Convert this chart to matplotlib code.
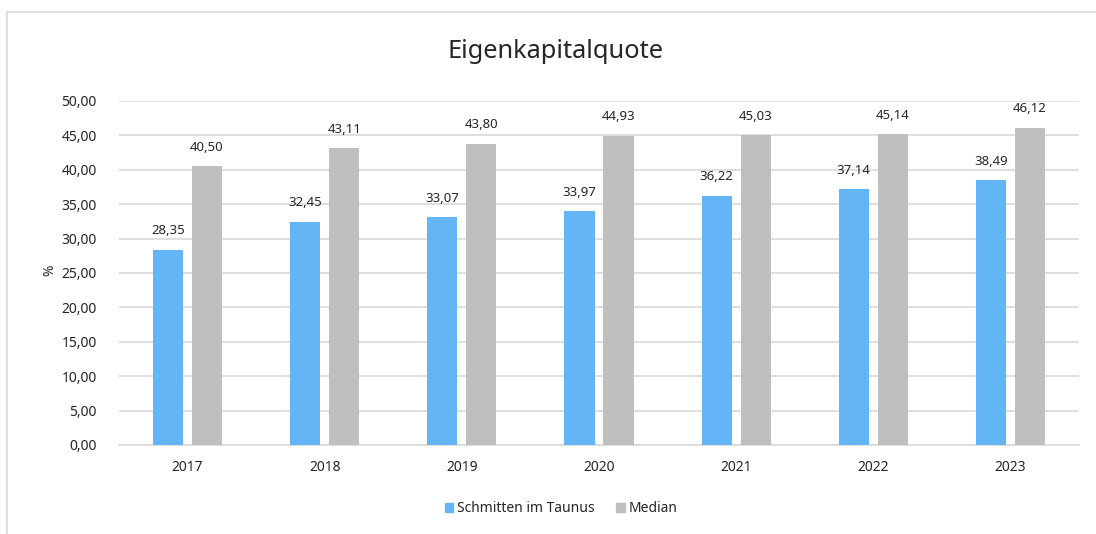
import matplotlib
matplotlib.use("Agg")
import matplotlib.pyplot as plt
from matplotlib.lines import Line2D
from matplotlib.patches import Patch
import numpy as np

plt.rcParams['font.family'] = ['Noto Sans', 'DejaVu Sans']

years = ["2017", "2018", "2019", "2020", "2021", "2022", "2023"]
schmitten = [28.35, 32.45, 33.07, 33.97, 36.22, 37.14, 38.49]
median = [40.50, 43.11, 43.80, 44.93, 45.03, 45.14, 46.12]
series_names = ["Schmitten im Taunus", "Median"]
yticks = [0, 5, 10, 15, 20, 25, 30, 35, 40, 45, 50]

blue = "#63B5F5"
gray = "#BFBFBF"
grid = "#D9D9D9"
W, H = 1096, 534

fig = plt.figure(figsize=(W / 100, H / 100), dpi=100)
ax = fig.add_axes([119 / W, 1 - 445 / H, (1079 - 119) / W, (445 - 101) / H])

x = np.arange(len(years))
bw = 0.22
off = 0.142
ax.bar(x - off, schmitten, bw, color=blue, zorder=3)
ax.bar(x + off, median, bw, color=gray, zorder=3)

def fmt(v):
    return f"{v:.2f}".replace(".", ",")

for xi, v in zip(x - off, schmitten):
    ax.annotate(fmt(v), (xi, v), xytext=(0, 9), textcoords="offset points",
                ha="center", va="bottom", fontsize=9.5, color="#262626")
for xi, v in zip(x + off, median):
    ax.annotate(fmt(v), (xi, v), xytext=(0, 9), textcoords="offset points",
                ha="center", va="bottom", fontsize=9.5, color="#262626")

ax.set_xlim(-0.5, len(years) - 0.5)
ax.set_ylim(0, 50)
ax.set_yticks(yticks)
ax.set_yticklabels([fmt(t) for t in yticks], fontsize=10, color="#262626")
ax.set_xticks(x)
ax.set_xticklabels(years, fontsize=10, color="#262626")
ax.tick_params(axis="both", length=0)
ax.tick_params(axis="y", pad=16)
ax.tick_params(axis="x", pad=10.5)
ax.grid(axis="y", color=grid, linewidth=1.2, zorder=0)
for s in ["top", "right", "left"]:
    ax.spines[s].set_visible(False)
ax.spines["bottom"].set_color(grid)
ax.spines["bottom"].set_linewidth(1.2)

fig.text(50 / W, 1 - 270 / H, "%", rotation=90, ha="center", va="center",
         fontsize=10, color="#262626")
fig.text(556 / W, 1 - 51 / H, "Eigenkapitalquote", ha="center", va="center",
         fontsize=18.3, color="#262626")

handles = [Patch(color=blue), Patch(color=gray)]
fig.legend(handles, series_names, loc="center", bbox_to_anchor=(561 / W, 1 - 509 / H),
           ncol=2, frameon=False, fontsize=10, handlelength=0.6, handleheight=0.6,
           handletextpad=0.25, columnspacing=1.6, labelcolor="#262626")

# chart border (top and left visible)
fig.add_artist(Line2D([7 / W, 1], [1 - 12 / H, 1 - 12 / H], color=grid, linewidth=1.2))
fig.add_artist(Line2D([7 / W, 7 / W], [0, 1 - 12 / H], color=grid, linewidth=1.2))

fig.savefig("out.png", dpi=100)
